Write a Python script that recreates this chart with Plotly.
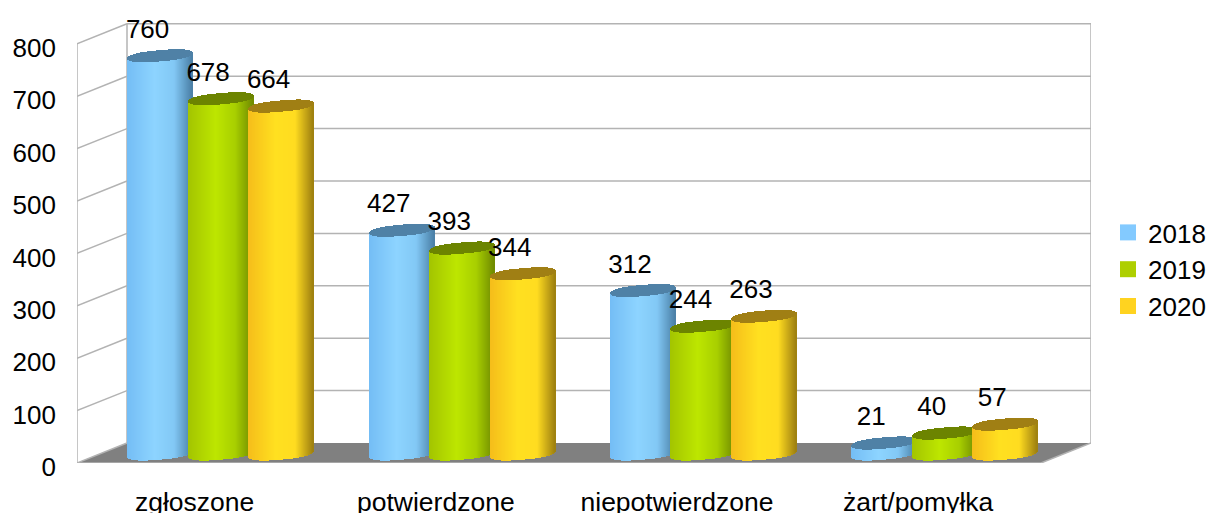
import numpy as np
import plotly.graph_objects as go

categories = ["zgłoszone", "potwierdzone", "niepotwierdzone", "żart/pomyłka"]
v2018 = [760, 427, 312, 21]
v2019 = [678, 393, 244, 40]
v2020 = [664, 344, 263, 57]
years = ["2018", "2019", "2020"]
y_ticks = [0, 100, 200, 300, 400, 500, 600, 700, 800]

legend_colors = ["#83caff", "#aecf00", "#ffd320"]
cap_colors = ["#4f81a6", "#6c8400", "#a07f14"]
shade_stops = [
    ["#74bdf5", "#8dd4ff", "#82c8f5", "#4a7fa6"],
    ["#a3c400", "#bde600", "#a8cf00", "#6f8a00"],
    ["#f5bd1a", "#ffe020", "#ffdc20", "#9d7f10"],
]
shade_pos = [-1.0, -0.15, 0.45, 1.0]

W, H = 1210, 513
FRONT_L, BACK_R, ZERO_Y = 77, 1091, 463
PX_PER_UNIT = 0.524
PX_PER_CAT = 241.2
DX_PX, DY_PX = 50, 20
CYL_HALF = 32.5
CYL_OFFSETS = [-37, 23.5, 84]
BASE_PX = 9
ELL_H = 5.6
ELL_TILT = 2.8
ELL_POW = 2.8
LABEL_PX = 33.5
LABEL_SHIFT = -13


def hex2rgb(c):
    return np.array([int(c[i:i + 2], 16) for i in (1, 3, 5)], float)


def shade(stops, t):
    rgb = np.array([hex2rgb(s) for s in stops])
    r = [int(round(np.interp(t, shade_pos, rgb[:, k]))) for k in range(3)]
    return f"rgb({r[0]},{r[1]},{r[2]})"


px2x = 1 / PX_PER_CAT
px2y = 1 / PX_PER_UNIT
x_min = -0.5
x_max = x_min + (BACK_R - FRONT_L) * px2x
y_max = ZERO_Y * px2y

fig = go.Figure()

series = [v2018, v2019, v2020]
slice_ts = (np.arange(65) + 0.5) / 65 * 2 - 1

for s, (values, year) in enumerate(zip(series, years)):
    xs, bases, heights, cols = [], [], [], []
    for g, v in enumerate(values):
        cx = g + CYL_OFFSETS[s] * px2x
        # cylinder side
        for t in slice_ts:
            k = np.sqrt(max(0, 1 - abs(t) ** ELL_POW))
            lo = (BASE_PX + ELL_TILT * t - ELL_H * k) * px2y
            hi = v + (BASE_PX + ELL_TILT * t) * px2y
            xs.append(cx + t * CYL_HALF * px2x)
            bases.append(lo)
            heights.append(hi - lo)
            cols.append(shade(shade_stops[s], t))
        # top ellipse
        for t in slice_ts:
            k = np.sqrt(max(0, 1 - abs(t) ** ELL_POW))
            mid = v + (BASE_PX + ELL_TILT * t) * px2y
            xs.append(cx + t * CYL_HALF * px2x)
            bases.append(mid - ELL_H * k * px2y)
            heights.append(2 * ELL_H * k * px2y)
            cols.append(cap_colors[s])
    fig.add_trace(go.Bar(
        x=xs, y=heights, base=bases, width=1.35 * px2x,
        marker=dict(color=cols, line=dict(width=0)),
        name=year, legendgroup=year, showlegend=False, hoverinfo="skip",
    ))

for s, (values, year) in enumerate(zip(series, years)):
    fig.add_trace(go.Scatter(
        x=[None], y=[None], mode="markers", name=year, legendgroup=year,
        marker=dict(symbol="square", size=16, color=legend_colors[s], line=dict(width=0)),
    ))

lx, ly, lt = [], [], []
for s, values in enumerate(series):
    for g, v in enumerate(values):
        lx.append(g + (CYL_OFFSETS[s] + LABEL_SHIFT) * px2x)
        ly.append(v + LABEL_PX * px2y)
        lt.append(str(v))
fig.add_trace(go.Scatter(
    x=lx, y=ly, text=lt, mode="text", textposition="middle center",
    textfont=dict(size=26, color="#000000"), showlegend=False, hoverinfo="skip", cliponaxis=False,
))

# 3D frame: floor, back wall, side wall, grid lines
dx = DX_PX * px2x
dy = DY_PX * px2y
GRID = "#b3b3b3"
x_front_r = x_max - dx
shapes = [dict(
    type="path", layer="below", xref="x", yref="y",
    path=f"M {x_min},0 L {x_min + dx},{dy} L {x_max},{dy} L {x_front_r},0 Z",
    fillcolor="#808080", line=dict(width=0),
)]
for v in y_ticks[1:]:
    shapes.append(dict(type="line", layer="below", xref="x", yref="y",
                       x0=x_min + dx, x1=x_max, y0=v + dy, y1=v + dy,
                       line=dict(color=GRID, width=1.5)))
for v in y_ticks:
    shapes.append(dict(type="line", layer="below", xref="x", yref="y",
                       x0=x_min, x1=x_min + dx, y0=v, y1=v + dy,
                       line=dict(color=GRID, width=1.5)))
top = y_ticks[-1]
for x0, y0, x1, y1 in [
    (x_min, 0, x_min, top),
    (x_min + dx, dy, x_min + dx, top + dy),
    (x_max, dy, x_max, top + dy),
    (x_min, 0, x_front_r, 0),
    (x_front_r, 0, x_max, dy),
]:
    shapes.append(dict(type="line", layer="below", xref="x", yref="y",
                       x0=x0, x1=x1, y0=y0, y1=y1, line=dict(color=GRID, width=1.5)))

fig.update_layout(
    width=W, height=H, barmode="overlay", bargap=0,
    margin=dict(l=FRONT_L, r=W - BACK_R, t=0, b=H - ZERO_Y, pad=0, autoexpand=False),
    paper_bgcolor="#ffffff", plot_bgcolor="rgba(0,0,0,0)",
    font=dict(family="Liberation Sans", size=26, color="#000000"),
    shapes=shapes,
    legend=dict(x=1108 / W, y=1 - 209 / H, xref="container", yref="container",
                xanchor="left", yanchor="top", itemwidth=30, tracegroupgap=0,
                font=dict(size=26), bgcolor="rgba(0,0,0,0)"),
    xaxis=dict(range=[x_min, x_max], tickmode="array", tickvals=[0, 1, 2, 3], ticktext=categories,
               showgrid=False, zeroline=False, showline=False, ticks="", ticklabelstandoff=20,
               ticklabelshift=-3, tickfont=dict(size=26.5), fixedrange=True, automargin=False),
    yaxis=dict(range=[0, y_max], tickmode="array", tickvals=y_ticks,
               showgrid=False, zeroline=False, showline=False, ticks="", ticklabelstandoff=20,
               ticklabelshift=4, tickfont=dict(size=26), fixedrange=True, automargin=False),
)

fig.write_html("out.html", post_script="document.body.style.margin='0';document.body.style.overflow='hidden';",
               config=dict(displayModeBar=False))
